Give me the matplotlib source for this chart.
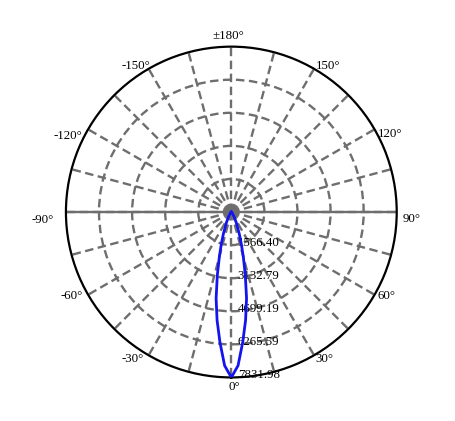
import numpy as np
import matplotlib
matplotlib.use("Agg")
import matplotlib.pyplot as plt

# ---- data ----
angles_deg = [-180, -90, -60, -50, -40, -30, -25, -20, -17.5, -15, -12.5, -10, -7.5, -5, -2.5,
              0, 2.5, 5, 7.5, 10, 12.5, 15, 17.5, 20, 25, 30, 40, 50, 60, 90, 180]
intensity = [0, 0, 15, 30, 80, 270, 550, 1100, 1560, 2190, 3060, 4150, 5170, 6190, 7280,
             7831.98, 7280, 6190, 5170, 4150, 3060, 2190, 1560, 1100, 550, 270, 80, 30, 15, 0, 0]
r_ticks = [1566.40, 3132.79, 4699.19, 6265.59, 7831.98]
r_tick_labels = ["1566.40", "3132.79", "4699.19", "6265.59", "7831.98"]
theta_label_angles = [0, 30, 60, 90, 120, 150, 180, -150, -120, -90, -60, -30]
theta_labels = ["0°", "30°", "60°", "90°", "120°", "150°", "±180°", "-150°", "-120°", "-90°", "-60°", "-30°"]

# ---- layout (pixel offsets of angle labels from the outer ring) ----
label_offsets_px = {0: (2.7, 10), 30: (10.7, 3.8), 60: (11.5, 1.3), 90: (15, 7),
                    120: (15.5, 4.7), 150: (14, -2.8), 180: (-2.8, -10.6),
                    -150: (-12.6, -2.8), -120: (-20, 6.7), -90: (-23.4, 8),
                    -60: (-16, 1.3), -30: (-15.6, 3.8)}

plt.rcParams['font.family'] = ['Liberation Serif', 'DejaVu Serif']
DPI = 100
fig = plt.figure(figsize=(4.56, 4.21), dpi=DPI)
ax = fig.add_axes([0.1446, 0.1035, 0.7254, 0.7857], projection='polar')
ax.set_theta_zero_location('S')
ax.set_theta_direction(1)
rmax = r_ticks[-1]
ax.set_ylim(0, rmax)

grid_color = '#6e6e6e'
ax.set_thetagrids(np.arange(0, 360, 15), labels=[''] * 24)
ax.set_rgrids(r_ticks[:-1], labels=[''] * 4)
ax.grid(True, color=grid_color, linewidth=1.7, linestyle=(0, (3.6, 1.9)))
ax.axvline(np.pi / 2, color=grid_color, linewidth=1.7, zorder=1.5)
ax.axvline(3 * np.pi / 2, color=grid_color, linewidth=1.7, zorder=1.5)
ax.spines['polar'].set_color('black')
ax.spines['polar'].set_linewidth(1.6)
ax.tick_params(pad=0)

FS = 9.3
# radial labels
for r, lab in zip(r_ticks, r_tick_labels):
    ax.annotate(lab, xy=(0, r), xycoords='data', xytext=(6.5 * 72 / DPI, 2 * 72 / DPI),
                textcoords='offset points', ha='left', va='center', fontsize=FS, color='black',
                zorder=2)

# angle labels
for a, lab in zip(theta_label_angles, theta_labels):
    dx, dy = label_offsets_px[a]
    ax.annotate(lab, xy=(np.deg2rad(a), rmax), xycoords='data',
                xytext=(dx * 72 / DPI, -dy * 72 / DPI), textcoords='offset points',
                ha='center', va='center', fontsize=FS, color='black', annotation_clip=False)

theta = np.deg2rad(angles_deg)
ax.plot(theta, intensity, color='#1414ee', linewidth=2.0, zorder=3)

fig.savefig('out.png', dpi=DPI)
